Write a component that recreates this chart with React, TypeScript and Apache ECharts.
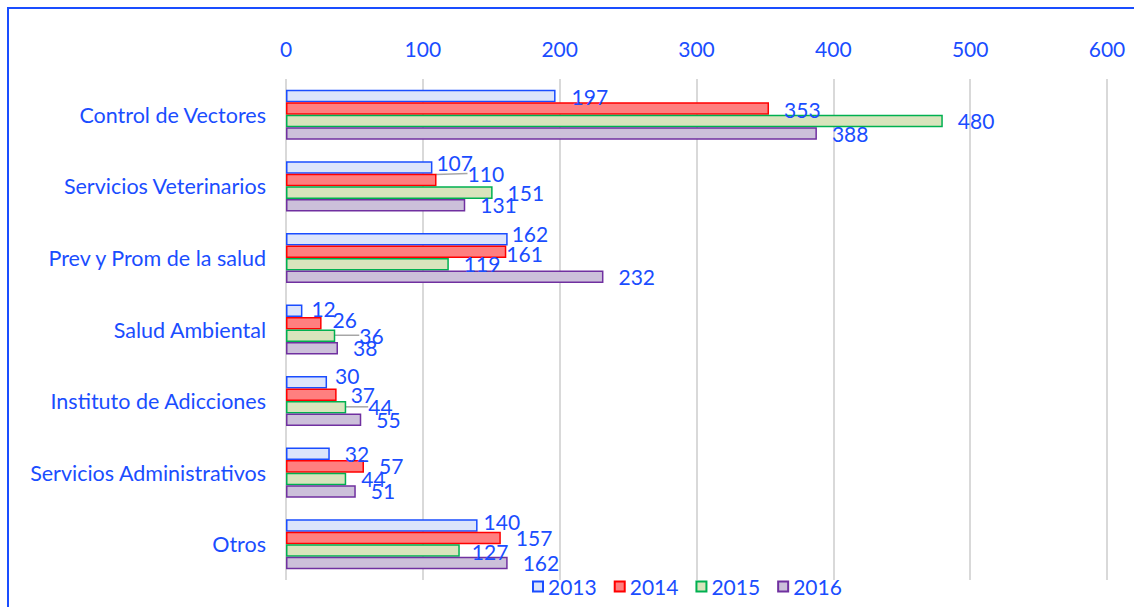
import React, { useEffect, useRef } from "react";
import * as echarts from "echarts";

const categories = [
  "Control de Vectores",
  "Servicios Veterinarios",
  "Prev y Prom de la salud",
  "Salud Ambiental",
  "Instituto de Adicciones",
  "Servicios Administrativos",
  "Otros",
];
const years = ["2013", "2014", "2015", "2016"];
const values2013 = [197, 107, 162, 12, 30, 32, 140];
const values2014 = [353, 110, 161, 26, 37, 57, 157];
const values2015 = [480, 151, 119, 36, 44, 44, 127];
const values2016 = [388, 131, 232, 38, 55, 51, 162];

// label nudges [dx, dy] per series / category (Excel-style label placement)
const nudges2013 = [[1, 0.5], [-11, -5.5], [-11, -5.5], [-6, -2.5], [-7, -6.5], [0, -0.5], [-9, -3.5]];
const nudges2014 = [[0, 0.5], [16, -6.5], [-15, 1.5], [-4, -3.5], [-1, -0.5], [0, -0.5], [0, -0.5]];
const nudges2015 = [[0, -0.5], [0, -0.5], [0, -0.5], [9, -0.5], [7, -0.5], [0, -0.5], [-3, 1.5]];
const nudges2016 = [[0, -0.5], [0, -0.5], [0, -0.5], [0, -0.5], [0, -0.5], [0, -0.5], [0, -0.5]];
const leaderLines2014 = [false, true, false, false, false, false, false];
const leaderLines2015 = [false, false, false, true, true, false, false];

const BLUE = "#1a4dff";
const FONT = "Lato";

const fills = ["#dce4fb", "#ff7f7f", "#d8e4bc", "#ccc0da"];
const borders = ["#1a4dff", "#ff0000", "#00b050", "#7030a0"];

export default function App() {
  const ref = useRef<HTMLDivElement>(null);
  useEffect(() => {
    if (!ref.current) return;
    const chart = echarts.init(ref.current, null, { renderer: "svg" });
    const allValues = [values2013, values2014, values2015, values2016];
    const allNudges = [nudges2013, nudges2014, nudges2015, nudges2016];
    const allLeaders = [
      [false, false, false, false, false, false, false],
      leaderLines2014,
      leaderLines2015,
      [false, false, false, false, false, false, false],
    ];
    const series = years.map((y, si) => ({
      name: y,
      type: "bar",
      barGap: "0%",
      barCategoryGap: "30%",
      itemStyle: { color: fills[si], borderColor: borders[si], borderWidth: 1.5 },
      label: {
        show: true,
        position: "right",
        distance: 15,
        color: BLUE,
        fontFamily: FONT,
        fontSize: 21,
      },
      labelLine: { show: false, lineStyle: { color: "#a6a6a6", width: 1.5 } },
      labelLayout: (params: any) => {
        const n = allNudges[si][params.dataIndex] || [0, 0];
        return { dx: n[0], dy: n[1] };
      },
      data: allValues[si].map((v, i) => ({
        value: v,
        labelLine: { show: allLeaders[si][i], lineStyle: { color: "#a6a6a6", width: 1.5 } },
      })),
    }));
    chart.setOption({
      animation: false,
      textStyle: { fontFamily: FONT },
      grid: { left: 286, right: 27, top: 79, bottom: 27, containLabel: false },
      legend: {
        data: years,
        left: 527,
        top: 571,
        icon: "rect",
        itemWidth: 10,
        itemHeight: 10,
        itemGap: 17,
        textStyle: { color: BLUE, fontSize: 21, fontFamily: FONT },
      },
      xAxis: {
        type: "value",
        position: "top",
        min: 0,
        max: 600,
        interval: 100,
        axisLine: { show: false },
        axisTick: { show: false },
        axisLabel: { color: BLUE, fontSize: 21, fontFamily: FONT, margin: 20 },
        splitLine: { show: true, lineStyle: { color: "#d9d9d9", width: 2 } },
      },
      yAxis: {
        type: "category",
        inverse: true,
        data: categories,
        axisLine: { show: false },
        axisTick: { show: false },
        axisLabel: { color: BLUE, fontSize: 21.5, fontFamily: FONT, margin: 20 },
      },
      graphic: [
        {
          type: "rect",
          shape: { x: 8, y: 8, width: 1200, height: 700 },
          style: { fill: "none", stroke: BLUE, lineWidth: 2 },
          silent: true,
        },
      ],
      series,
    });
    return () => chart.dispose();
  }, []);
  return (
    <div
      ref={ref}
      style={{ position: "fixed", left: 0, top: 0, width: 1134, height: 607, background: "#fff" }}
    />
  );
}
